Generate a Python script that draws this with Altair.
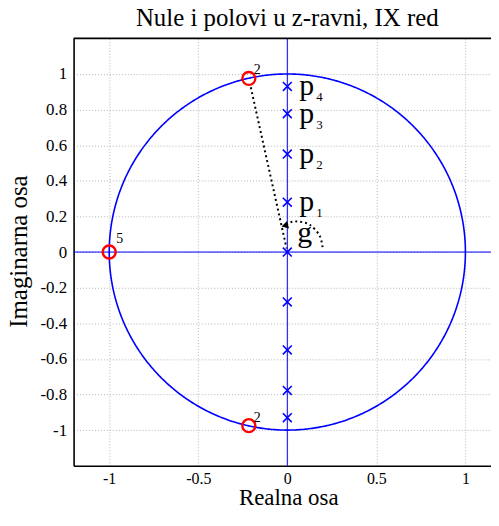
import altair as alt
import numpy as np
import pandas as pd

# ---- data ----
pole_re = [0, 0, 0, 0, 0, 0, 0, 0, 0]
pole_im = [0.0, 0.28, -0.28, 0.55, -0.55, 0.777, -0.777, 0.93, -0.93]

zero_re = [-1.0, -0.216, -0.216]
zero_im = [0.0, 0.975, -0.975]
zero_mult = ["5", "2", "2"]

p_names = ["1", "2", "3", "4"]
p_im = [0.28, 0.55, 0.777, 0.93]

# dotted radius line (from the upper zero towards the origin)
ray_x = [-0.205, -0.004]
ray_y = [0.925, 0.02]
# dotted angle arc
arc_x = [0.198, 0.181, 0.126, 0.071, 0.027, -0.006]
arc_y = [0.027, 0.093, 0.153, 0.170, 0.170, 0.152]
arrow_x = [-0.008]
arrow_y = [0.150]

x_ticks = [-1, -0.5, 0, 0.5, 1]
y_ticks = [-1, -0.8, -0.6, -0.4, -0.2, 0, 0.2, 0.4, 0.6, 0.8, 1]

# ---- unit circle geometry ----
t = np.linspace(0, 2 * np.pi, 721)
circle = pd.DataFrame({"x": np.cos(t), "y": np.sin(t), "o": np.arange(t.size)})

FONT = "Liberation Serif"
BLUE = "#0000ff"
RED = "#ff0000"
PX = 179.2
W, H = 420, 430
XD = [-1.2, -1.2 + W / PX]
YD = [-1.2, 1.2]

lab = "datum.value < 0 ? '-' + format(-datum.value, '~g') : format(datum.value, '~g')"

xs = alt.Scale(domain=XD, nice=False, zero=False)
ys = alt.Scale(domain=YD, nice=False, zero=False)

xax = alt.Axis(values=x_ticks, title="Realna osa", labelExpr=lab, grid=True,
               ticks=False, labelPadding=5, labelFontSize=16, titleFontSize=23,
               titleX=216, titleY=39, titleBaseline="alphabetic", titleAlign="center")
yax = alt.Axis(values=y_ticks, title="Imaginarna osa", labelExpr=lab, grid=True,
               ticks=False, labelPadding=7, labelFontSize=17, titleFontSize=25,
               titleX=-47, titleY=214, titleBaseline="alphabetic", titleAlign="center",
               titleAngle=270)

base_x = alt.X("x:Q", scale=xs, axis=xax)
base_y = alt.Y("y:Q", scale=ys, axis=yax)

circ = alt.Chart(circle).mark_line(color=BLUE, strokeWidth=1.6, clip=True).encode(
    x=base_x, y=base_y, order="o:Q")

hline = alt.Chart(pd.DataFrame({"y": [0]})).mark_rule(color=BLUE, strokeWidth=1).encode(
    y=alt.Y("y:Q", scale=ys))
vline = alt.Chart(pd.DataFrame({"x": [0]})).mark_rule(color=BLUE, strokeWidth=1).encode(
    x=alt.X("x:Q", scale=xs))
topline = alt.Chart(pd.DataFrame({"y": [YD[1]]})).mark_rule(color="black", strokeWidth=1.6).encode(
    y=alt.Y("y:Q", scale=ys))

poles = alt.Chart(pd.DataFrame({"x": pole_re, "y": pole_im})).mark_point(
    shape="M-1,-1L1,1M-1,1L1,-1", size=80, color=BLUE, strokeWidth=1.6, filled=False, opacity=1
).encode(x=alt.X("x:Q", scale=xs), y=alt.Y("y:Q", scale=ys))

zdf = pd.DataFrame({"x": zero_re, "y": zero_im, "m": zero_mult})
zeros = alt.Chart(zdf).mark_point(
    shape="circle", size=170, color=RED, strokeWidth=2.4, filled=False, opacity=1
).encode(x=alt.X("x:Q", scale=xs), y=alt.Y("y:Q", scale=ys))

mult5 = alt.Chart(zdf.iloc[[0]]).mark_text(
    font=FONT, fontSize=14, align="left", baseline="alphabetic", dx=7, dy=-9, color="black"
).encode(x=alt.X("x:Q", scale=xs), y=alt.Y("y:Q", scale=ys), text="m:N")
mult2 = alt.Chart(zdf.iloc[[1, 2]]).mark_text(
    font=FONT, fontSize=14, align="left", baseline="alphabetic", dx=5, dy=-4, color="black"
).encode(x=alt.X("x:Q", scale=xs), y=alt.Y("y:Q", scale=ys), text="m:N")

pdf = pd.DataFrame({"x": [0] * len(p_im), "y": p_im, "n": p_names, "p": ["p"] * len(p_im)})
p_txt = alt.Chart(pdf).mark_text(
    font=FONT, fontSize=30, align="left", baseline="alphabetic", dx=12, dy=9, color="black"
).encode(x=alt.X("x:Q", scale=xs), y=alt.Y("y:Q", scale=ys), text="p:N")
p_sub = alt.Chart(pdf).mark_text(
    font=FONT, fontSize=13, align="left", baseline="alphabetic", dx=29, dy=15, color="black"
).encode(x=alt.X("x:Q", scale=xs), y=alt.Y("y:Q", scale=ys), text="n:N")

g_txt = alt.Chart(pd.DataFrame({"x": [0], "y": [0], "t": ["g"]})).mark_text(
    font=FONT, fontSize=30, align="left", baseline="alphabetic", dx=10, dy=-10, color="black"
).encode(x=alt.X("x:Q", scale=xs), y=alt.Y("y:Q", scale=ys), text="t:N")

ray = alt.Chart(pd.DataFrame({"x": ray_x, "y": ray_y, "o": [0, 1]})).mark_line(
    color="black", strokeWidth=2, strokeDash=[2, 3]
).encode(x=alt.X("x:Q", scale=xs), y=alt.Y("y:Q", scale=ys), order="o:Q")

arc = alt.Chart(pd.DataFrame({"x": arc_x, "y": arc_y, "o": list(range(len(arc_x)))})).mark_line(
    color="black", strokeWidth=2, strokeDash=[2, 3], interpolate="cardinal"
).encode(x=alt.X("x:Q", scale=xs), y=alt.Y("y:Q", scale=ys), order="o:Q")

arrow = alt.Chart(pd.DataFrame({"x": arrow_x, "y": arrow_y})).mark_point(
    shape="triangle", size=60, color="black", filled=True, opacity=1, angle=255
).encode(x=alt.X("x:Q", scale=xs), y=alt.Y("y:Q", scale=ys))

chart = alt.layer(
    circ, hline, vline, topline, ray, arc, arrow, poles, zeros, mult5, mult2, p_txt, p_sub, g_txt
).properties(
    width=W, height=H,
    title=alt.TitleParams("Nule i polovi u z-ravni, IX red", font=FONT, fontSize=25,
                          fontWeight="normal", color="black", anchor="middle",
                          offset=7, dx=5),
    autosize=alt.AutoSizeParams(type="none"),
    padding={"left": 66, "top": 29, "right": 0, "bottom": 41},
).configure_view(strokeWidth=0).configure_axis(
    labelFont=FONT, labelColor="black",
    titleFont=FONT, titleFontWeight="normal", titleColor="black",
    domainColor="black", domainWidth=1.6,
    gridColor="#b4b4b4", gridDash=[1, 2], gridWidth=1,
)

chart.save("out.html", embed_options={"renderer": "svg", "actions": False})
